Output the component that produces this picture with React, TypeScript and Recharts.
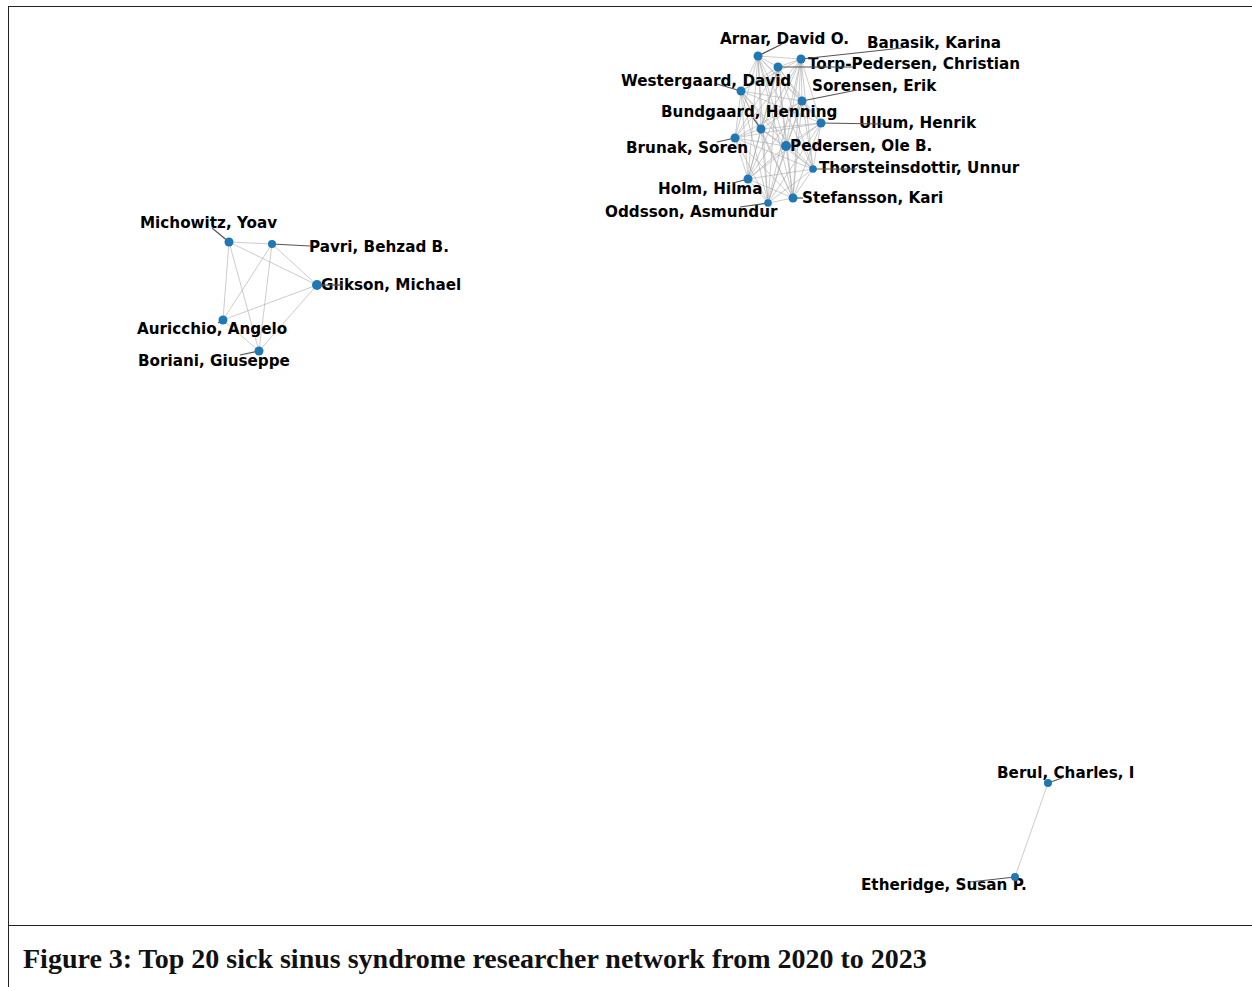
import React from 'react';
import { ScatterChart, Scatter, XAxis, YAxis } from 'recharts';

// Researcher nodes (layout coordinates)
const names = [
  'Arnar, David O.', 'Banasik, Karina', 'Torp-Pedersen, Christian', 'Westergaard, David',
  'Sorensen, Erik', 'Bundgaard, Henning', 'Ullum, Henrik', 'Brunak, Soren',
  'Pedersen, Ole B.', 'Thorsteinsdottir, Unnur', 'Holm, Hilma', 'Stefansson, Kari',
  'Oddsson, Asmundur',
  'Michowitz, Yoav', 'Pavri, Behzad B.', 'Glikson, Michael', 'Auricchio, Angelo', 'Boriani, Giuseppe',
  'Berul, Charles, I', 'Etheridge, Susan P.',
];
const nodeX = [758, 801, 778, 741, 802, 761, 821, 735, 786, 813, 748, 793, 768, 229, 272, 317, 223, 259, 1048, 1015];
const nodeY = [56, 59, 67, 91, 101, 129, 123, 138, 146, 169, 179, 198, 203, 242, 244, 285, 320, 351, 783, 877];
const nodeWeight = [4.5, 4.5, 4.5, 4.5, 4.5, 4.5, 4.5, 4.5, 5, 3.8, 4.5, 4.5, 3.8, 4.5, 4, 5, 4.5, 4.5, 4, 4];

// Label anchor points (left edge, middle) and leader-line ends
const labelX = [720, 867, 808, 621, 812, 661, 859, 626, 790, 819, 658, 802, 605, 140, 309, 321, 137, 138, 997, 861];
const labelY = [39, 43, 64, 81, 86, 112, 123, 148, 146, 168, 189, 198, 212, 223, 247, 285, 329, 361, 773, 885];
const leaderX = [782, 902, 853, 717, 857, 753, 883, 717, 788, 857, 733, 803, 740, 212, 310, 343, 218, 240, 1062, 970];
const leaderY = [44, 48, 67, 84, 90, 118, 124, 142, 146, 169, 183, 198, 207, 228, 246, 285, 323, 355, 778, 882];

// Communities (complete co-authorship groups)
const groups = [
  [0, 1, 2, 3, 4, 5, 6, 7, 8, 9, 10, 11, 12],
  [13, 14, 15, 16, 17],
  [18, 19],
];

const caption = 'Figure 3: Top 20 sick sinus syndrome researcher network from 2020 to 2023';

const nodes = names.map((n, i) => ({ name: n, x: nodeX[i], y: nodeY[i], w: nodeWeight[i] }));
const labels = names.map((n, i) => ({ name: n, x: labelX[i], y: labelY[i] }));
const edges: { x: number; y: number }[][] = [];
groups.forEach((g) => {
  for (let a = 0; a < g.length; a++)
    for (let b = a + 1; b < g.length; b++)
      edges.push([
        { x: nodeX[g[a]], y: nodeY[g[a]] },
        { x: nodeX[g[b]], y: nodeY[g[b]] },
      ]);
});
const leaders = names.map((_, i) => [
  { x: nodeX[i], y: nodeY[i] },
  { x: leaderX[i], y: leaderY[i] },
]);

const Empty = () => <g />;

export default function App() {
  return (
    <div style={{ position: 'absolute', left: 0, top: 0, width: 1252, height: 987, background: '#fff', overflow: 'hidden' }}>
      <div style={{ position: 'absolute', left: 8, top: 6, width: 1250, height: 918, borderTop: '1.5px solid #222', borderLeft: '1.5px solid #222', borderBottom: '1.5px solid #222' }} />
      <div style={{ position: 'absolute', left: 8, top: 924, width: 1, height: 63, background: '#222' }} />
      <div style={{ position: 'absolute', left: 0, top: 0 }}>
        <ScatterChart width={1252} height={924} margin={{ top: 0, right: 0, bottom: 0, left: 0 }}>
          <XAxis type="number" dataKey="x" domain={[0, 1252]} hide allowDataOverflow />
          <YAxis type="number" dataKey="y" domain={[0, 924]} reversed hide allowDataOverflow />
          {edges.map((e, i) => (
            <Scatter key={'e' + i} data={e} line={{ stroke: '#aaaaaa', strokeWidth: 1, strokeOpacity: 0.6 }} shape={Empty} isAnimationActive={false} />
          ))}
          <Scatter
            data={labels}
            isAnimationActive={false}
            shape={(p: any) => (
              <text x={p.cx} y={p.cy} dy="0.36em" textAnchor="start" fontFamily="DejaVu Sans" fontWeight="bold" fontSize={15.2} fill="#000">
                {p.payload.name}
              </text>
            )}
          />
          {leaders.map((e, i) => (
            <Scatter key={'l' + i} data={e} line={{ stroke: '#555', strokeWidth: 1.2 }} shape={Empty} isAnimationActive={false} />
          ))}
          <Scatter
            data={nodes}
            isAnimationActive={false}
            shape={(p: any) => <circle cx={p.cx} cy={p.cy} r={p.payload.w} fill="#1f77b4" />}
          />
        </ScatterChart>
      </div>
      <div style={{ position: 'absolute', left: 23, top: 943, fontFamily: '"Liberation Serif", serif', fontWeight: 'bold', fontSize: 28, color: '#111', whiteSpace: 'nowrap' }}>
        {caption}
      </div>
    </div>
  );
}
